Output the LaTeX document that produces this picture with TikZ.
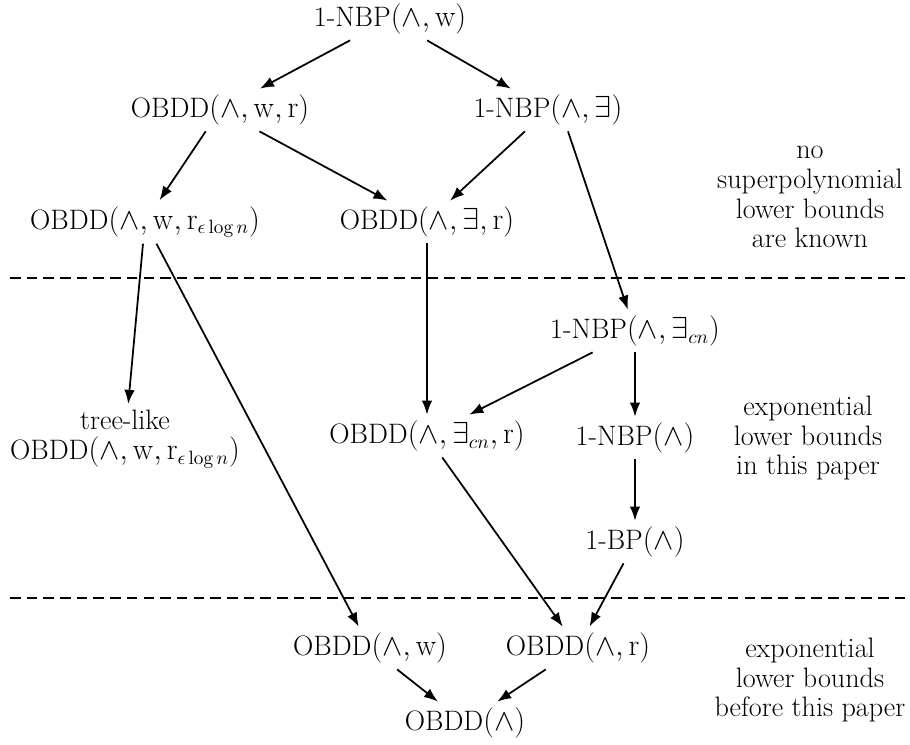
\documentclass[tikz,border=0pt]{standalone}
\usetikzlibrary{arrows.meta}
\begin{document}
\begin{tikzpicture}[font=\fontsize{16}{17}\selectfont, arr/.style={-{Latex[length=8pt,width=6pt]}, line width=1pt}, sep/.style={thick, dash pattern=on 6pt off 3.5pt}]
		\useasboundingbox (0, 0) rectangle (18.2, 14.88);

		\node (top) at (7.8, 14.5) {1-NBP$(\wedge, \mathrm{w})$};
		\node (owr) at (4.4, 12.68) {OBDD$(\wedge, \mathrm{w}, \mathrm{r})$};
		\node (nbpe) at (10.96, 12.68) {1-NBP$(\wedge, \exists)$};
		\node (owreps) at (2.9, 10.44) {OBDD$(\wedge, \mathrm{w}, \mathrm{r}_{\epsilon\log n})$};
		\node (oer) at (8.54, 10.44) {OBDD$(\wedge, \exists, \mathrm{r})$};
		\node[align=center] (known) at (16.2, 10.94) {no\\superpolynomial\\lower bounds\\are known};

		\draw[sep] (0.2, 9.32) -- (18.2, 9.32);

		\node (nbpecn) at (12.7, 8.26) {1-NBP$(\wedge, \exists_{cn})$};
		\node[align=center] (tree) at (2.5, 6.1) {tree-like\\OBDD$(\wedge, \mathrm{w}, \mathrm{r}_{\epsilon\log n})$};
		\node (oecnr) at (8.54, 6.16) {OBDD$(\wedge, \exists_{cn}, \mathrm{r})$};
		\node (nbp) at (12.7, 6.12) {1-NBP$(\wedge)$};
		\node[align=center] (thispaper) at (16.16, 6.12) {exponential\\lower bounds\\in this paper};
		\node (bp) at (12.7, 4.04) {1-BP$(\wedge)$};

		\draw[sep] (0.2, 2.92) -- (18.2, 2.92);

		\node (ow) at (7.4, 1.92) {OBDD$(\wedge, \mathrm{w})$};
		\node (or) at (11.56, 1.92) {OBDD$(\wedge, \mathrm{r})$};
		\node (o) at (9.3, 0.42) {OBDD$(\wedge)$};
		\node[align=center] (before) at (16.2, 1.28) {exponential\\lower bounds\\before this paper};

		\draw[arr] (top) -- (owr);
		\draw[arr] (top) -- (nbpe);
		\draw[arr] (owr) -- (owreps);
		\draw[arr] (owr) -- (oer);
		\draw[arr] (nbpe) -- (oer);
		\draw[arr] ([xshift=0.4cm]nbpe.south) -- (nbpecn);
		\draw[arr] (owreps) -- (tree);
		\draw[arr] (owreps) -- (ow);
		\draw[arr] (oer) -- (oer |- oecnr.north);
		\draw[arr] (nbpecn) -- (oecnr);
		\draw[arr] (nbpecn) -- (nbp);
		\draw[arr] (nbp) -- (bp);
		\draw[arr] (oecnr) -- (or);
		\draw[arr] (bp) -- (or);
		\draw[arr] (ow) -- (o);
		\draw[arr] (or) -- (o);
	\end{tikzpicture}
\end{document}
